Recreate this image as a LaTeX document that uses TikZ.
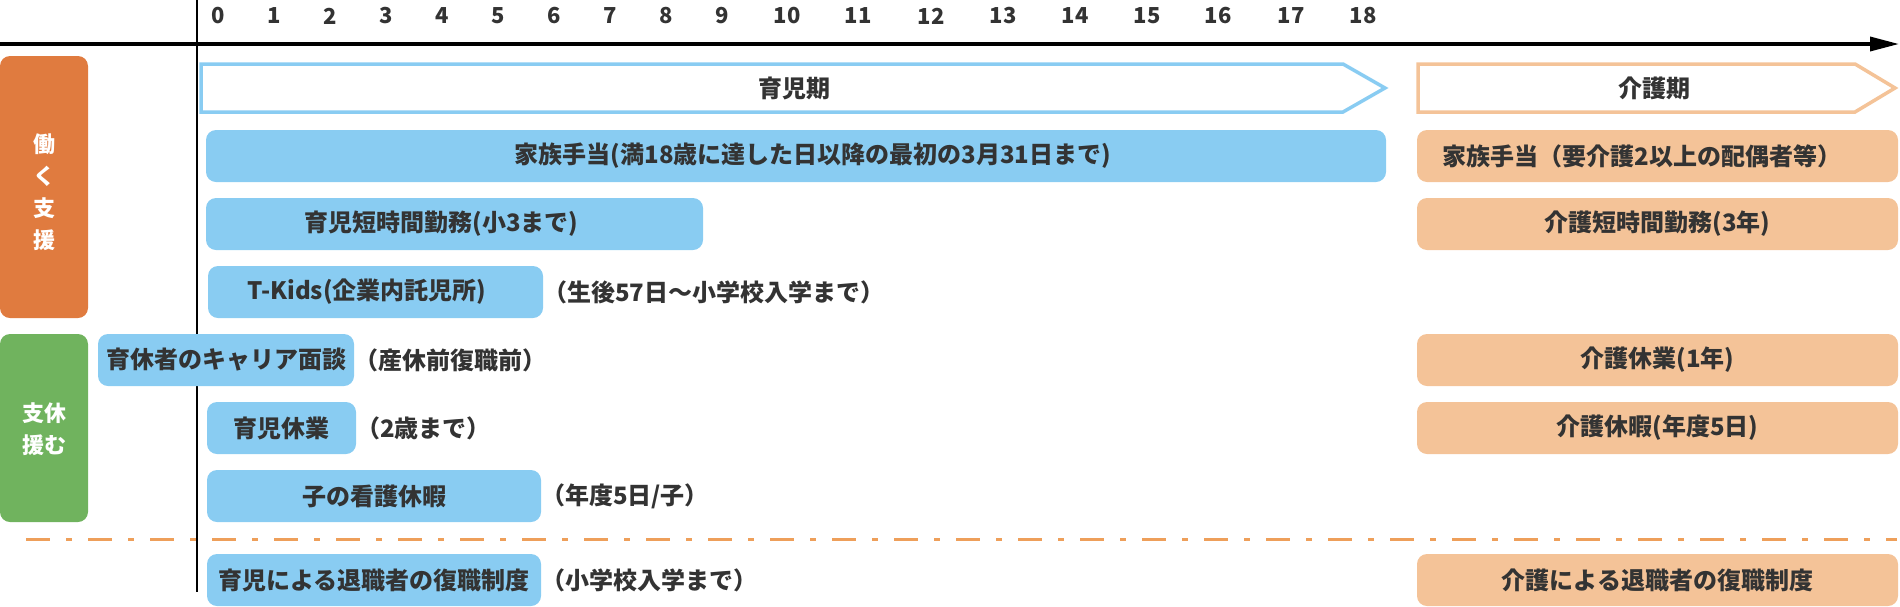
\documentclass[tikz,border=0pt]{standalone}
\usepackage{fontspec}
\setmainfont{Noto Sans CJK JP}
\usetikzlibrary{arrows.meta}
\definecolor{txtc}{HTML}{333333}
\definecolor{bluc}{HTML}{89CCF2}
\definecolor{orac}{HTML}{F4C398}
\definecolor{sideoc}{HTML}{E07B3F}
\definecolor{sidegc}{HTML}{70B35E}
\definecolor{dashc}{HTML}{EE9F5A}
\newcommand\mkbox[7]{\node[#1, minimum width={#4pt-#3pt}, minimum height={#6pt-#5pt}] (#2) at ({(#3+#4)/2},{(#5+#6)/2}) {#7};}
\begin{document}
\begin{tikzpicture}[x=1pt,y=-1pt,
 every node/.style={inner sep=0pt, outer sep=0pt},
 txtstyle/.style={font=\fontsize{24}{28}\selectfont\bfseries, text=txtc},
 bluebox/.style={txtstyle, fill=bluc, rounded corners=10pt},
 orabox/.style={txtstyle, fill=orac, rounded corners=10pt},
 notetxt/.style={txtstyle, anchor=west},
 numtxt/.style={font=\fontsize{22}{26}\selectfont\bfseries, text=txtc},
 sidetxt/.style={font=\fontsize{22}{32}\selectfont\bfseries, text=white, align=center},
 sidebox/.style={rounded corners=10pt},
]
\useasboundingbox (0,0) rectangle (1900,606);
% axis
\coordinate (axL) at (0,44);
\coordinate (axR) at (1899,44);
\draw[line width=3.5pt, -{Triangle[length=29pt,width=14pt]}] (axL) -- (axR);
\coordinate (vT) at (197,0);
\coordinate (vB) at (197,592);
\draw[line width=2pt] (vT) -- (vB);
\foreach \n/\x in {0/218,1/274,2/330,3/386,4/442,5/498,6/554,7/610,8/666,9/722,10/787,11/858,12/931,13/1003,14/1075,15/1147,16/1218,17/1291,18/1363}
  \node[numtxt] (n\n) at (\x,16) {\n};
% period chevrons
\draw[bluc, line width=3.5pt, fill=white, line join=miter] (201,64) -- (1343,64) -- (1385,88) -- (1343,112) -- (201,112) -- cycle;
\node[txtstyle] (ikuji) at (794,88) {育児期};
\draw[orac, line width=3.5pt, fill=white, line join=miter] (1418,64) -- (1855,64) -- (1895,88) -- (1855,112) -- (1418,112) -- cycle;
\node[txtstyle] (kaigo) at (1654,88) {介護期};
% side boxes
\mkbox{sidebox, fill=sideoc}{so}{0}{88}{56}{318}{}
\node[sidetxt] (sot) at (44,192.5) {働\\く\\支\\援};
\mkbox{sidebox, fill=sidegc}{sg}{0}{88}{334}{522}{}
\node[sidetxt] (sgt) at (44,429) {支休\\援む};
% dash-dot separator
\coordinate (dL) at (26,539);
\coordinate (dR) at (1897,539);
\draw[dashc, line width=3pt, dash pattern=on 24pt off 16pt on 6pt off 16pt] (dL) -- (dR);
% row 1
\mkbox{bluebox}{b1}{206}{1386}{130}{182}{}
\node[txtstyle] (b1t) at (813,156) {家族手当(満18歳に達した日以降の最初の3月31日まで)};
\mkbox{orabox}{o1}{1417}{1898}{130}{182}{}
\node[txtstyle] (o1t) at (1642,156) {家族手当（要介護2以上の配偶者等）};
% row 2
\mkbox{bluebox}{b2}{206}{703}{198}{250}{}
\node[txtstyle] (b2t) at (441.5,224) {育児短時間勤務(小3まで)};
\mkbox{orabox}{o2}{1417}{1898}{198}{250}{介護短時間勤務(3年)}
% row 3
\mkbox{bluebox}{b3}{208}{543}{266}{318}{}
\node[txtstyle] (b3t) at (367,292) {T-Kids(企業内託児所)};
\node[notetxt] (b3n) at (b3.east) {（生後57日～小学校入学まで）};
% row 4
\mkbox{bluebox}{b4}{98}{354}{334}{386}{育休者のキャリア面談}
\node[notetxt] (b4n) at (b4.east) {（産休前復職前）};
\mkbox{orabox}{o4}{1417}{1898}{334}{386}{介護休業(1年)}
% row 5
\mkbox{bluebox}{b5}{207}{356}{402}{454}{育児休業}
\node[notetxt] (b5n) at (b5.east) {（2歳まで）};
\mkbox{orabox}{o5}{1417}{1898}{402}{454}{介護休暇(年度5日)}
% row 6
\mkbox{bluebox}{b6}{207}{541}{470}{522}{子の看護休暇}
\node[notetxt] (b6n) at (b6.east) {（年度5日/子）};
% row 7
\mkbox{bluebox}{b7}{207}{541}{554}{606}{育児による退職者の復職制度}
\node[notetxt] (b7n) at (b7.east) {（小学校入学まで）};
\mkbox{orabox}{o7}{1417}{1898}{554}{606}{介護による退職者の復職制度}
\end{tikzpicture}
\end{document}
